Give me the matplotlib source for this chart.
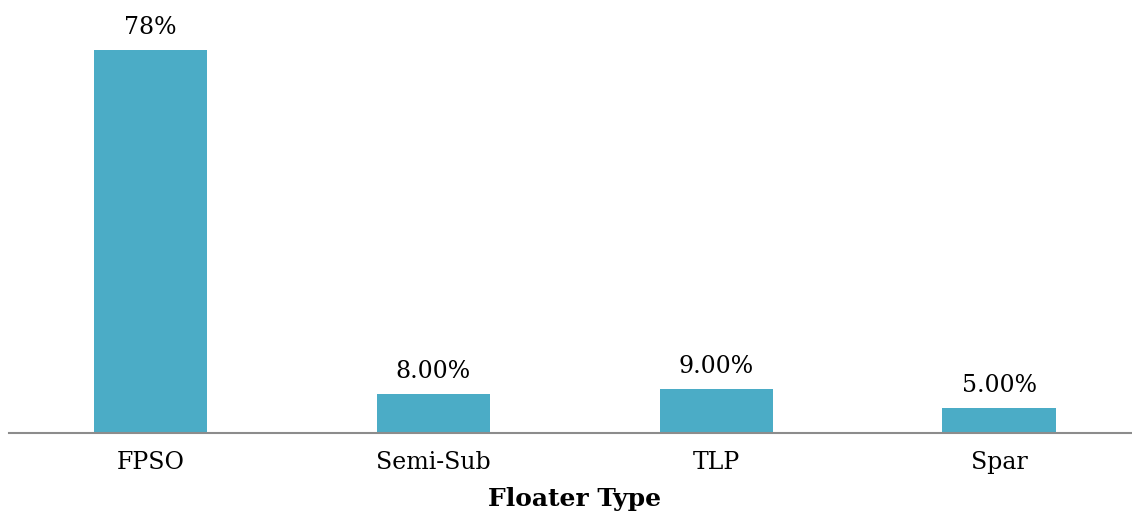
import matplotlib
matplotlib.use("Agg")
import matplotlib.pyplot as plt

categories = ["FPSO", "Semi-Sub", "TLP", "Spar"]
shares = [78, 8, 9, 5]
value_labels = ["78%", "8.00%", "9.00%", "5.00%"]

BAR = "#4BACC6"

plt.rcParams["font.family"] = ["DejaVu Serif"]

fig = plt.figure(figsize=(11.32, 5.14), dpi=100)
ax = fig.add_axes([9 / 1132, 81 / 514, 1123 / 1132, 433 / 514])
x = range(len(categories))
bars = ax.bar(x, shares, width=0.4, color=BAR)
ax.set_xlim(-0.5, 3.47)
ax.set_ylim(0, 88.2)
for b, lab in zip(bars, value_labels):
    ax.annotate(lab, (b.get_x() + b.get_width() / 2, b.get_height()),
                xytext=(0, 8), textcoords="offset points",
                ha="center", va="bottom", fontsize=17)
ax.set_xticks(list(x))
ax.set_xticklabels(categories, fontsize=17)
ax.tick_params(axis="x", length=0, pad=13)
ax.set_yticks([])
for s in ("top", "right", "left"):
    ax.spines[s].set_visible(False)
ax.spines["bottom"].set_color("#8c8c8c")
ax.spines["bottom"].set_linewidth(1.5)
ax.set_xlabel("Floater Type", fontsize=18, fontweight="bold")
ax.xaxis.set_label_coords(566 / 1123, -0.152)
ax.xaxis.label.set_va("center")

fig.savefig("out.png", dpi=100, facecolor="white")
